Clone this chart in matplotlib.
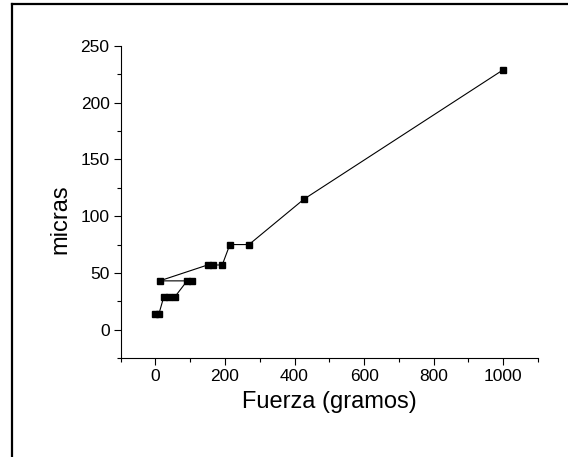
import matplotlib
matplotlib.use("Agg")
import matplotlib.pyplot as plt
from matplotlib.lines import Line2D
from matplotlib.ticker import MultipleLocator

plt.rcParams["font.family"] = ["Liberation Sans", "DejaVu Sans"]

# load (g) vs indentation size (micras), in drawing order
fuerza = [0, 10, 24, 38, 56, 91, 106, 12, 150, 166, 192, 214, 269, 427, 1000]
micras = [14, 14, 29, 29, 29, 43, 43, 43, 57, 57, 57, 75, 75, 115, 229]

fig = plt.figure(figsize=(5.68, 4.57), dpi=100)
ax = fig.add_axes([0.2125, 0.2166, 0.947 - 0.2125, 0.8993 - 0.2166])

ax.plot(fuerza, micras, color="black", lw=0.8, marker="s", ms=5,
        markerfacecolor="black", markeredgecolor="black")

ax.set_xlim(-100, 1100)
ax.set_ylim(-25, 250)
ax.xaxis.set_major_locator(MultipleLocator(200))
ax.xaxis.set_minor_locator(MultipleLocator(100))
ax.yaxis.set_major_locator(MultipleLocator(50))
ax.yaxis.set_minor_locator(MultipleLocator(25))

for s in ("top", "right"):
    ax.spines[s].set_visible(False)
for s in ("left", "bottom"):
    ax.spines[s].set_linewidth(0.8)

ax.tick_params(which="major", direction="out", length=5, width=0.8,
               labelsize=12.5, pad=3)
ax.tick_params(which="minor", direction="out", length=3, width=0.8)

ax.set_xlabel("Fuerza (gramos)", fontsize=17, labelpad=5)
ax.set_ylabel("micras", fontsize=17)
ax.yaxis.set_label_coords(-0.117, 0.445)

# frame lines of the original figure (left and top edges)
fig.add_artist(Line2D([12 / 568, 12 / 568], [0, 1 - 4 / 457],
                      transform=fig.transFigure, color="black", lw=1.6))
fig.add_artist(Line2D([12 / 568, 1], [1 - 4 / 457, 1 - 4 / 457],
                      transform=fig.transFigure, color="black", lw=1.6))

fig.savefig("out.png", dpi=100)
